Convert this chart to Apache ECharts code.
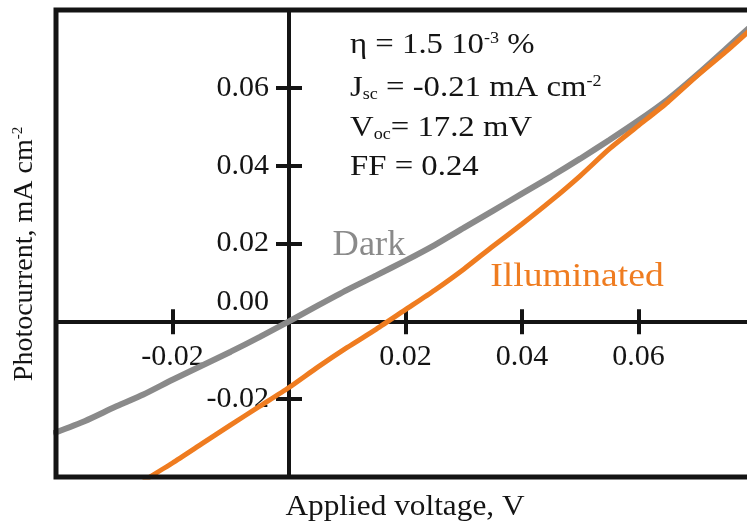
<!DOCTYPE html>
<html>
<head>
<meta charset="utf-8">
<script src="https://cdn.jsdelivr.net/npm/echarts@6/dist/echarts.min.js"></script>
<style>
html,body{margin:0;padding:0;background:#ffffff;}
#chart{width:747px;height:521px;}
</style>
</head>
<body>
<div id="chart"></div>
<script>
// ---- data ----
const darkVoltage = [-0.0405, -0.035, -0.030, -0.025, -0.020, -0.015, -0.010, -0.005, 0.000, 0.005, 0.010, 0.015, 0.020, 0.025, 0.030, 0.035, 0.040, 0.045, 0.050, 0.055, 0.060, 0.065, 0.070, 0.075, 0.080];
const darkCurrent = [-0.0288, -0.0256, -0.0221, -0.0188, -0.0150, -0.0114, -0.0078, -0.0040, 0.0000, 0.0041, 0.0081, 0.0118, 0.0156, 0.0196, 0.0240, 0.0284, 0.0328, 0.0372, 0.0418, 0.0466, 0.0516, 0.0570, 0.0633, 0.0700, 0.0768];

const lightVoltage = [-0.025, -0.020, -0.015, -0.010, -0.005, 0.000, 0.005, 0.010, 0.015, 0.020, 0.025, 0.030, 0.035, 0.040, 0.045, 0.050, 0.055, 0.060, 0.065, 0.070, 0.075, 0.080];
const lightCurrent = [-0.0410, -0.0364, -0.0315, -0.0266, -0.0218, -0.0170, -0.0117, -0.0067, -0.0020, 0.0030, 0.0080, 0.0134, 0.0193, 0.0250, 0.0310, 0.0374, 0.0443, 0.0503, 0.0563, 0.0630, 0.0693, 0.0760];

const xTickLabels = ['-0.02', '0.02', '0.04', '0.06'];
const yTickLabels = ['-0.02', '0.00', '0.02', '0.04', '0.06'];

const annotationLines = [
  '\u03b7 = 1.5 10{sup|-3} %',
  'J{sub|sc} = -0.21 mA cm{sup|-2}',
  'V{sub|oc}= 17.2 mV',
  'FF = 0.24'
];
const xTitle = 'Applied voltage, V';
const yTitle = 'Photocurrent, mA cm{sup|-2}';
const seriesNames = ['Dark', 'Illuminated'];

// ---- styling / layout ----
const FONT = '"Liberation Serif", "Times New Roman", serif';
const INK = '#141414';
const GRAY = '#8a8a8a';
const ORANGE = '#ef7c20';
const CW = 747, CH = 521;
const G = {left: 56, top: 10, right: -8, bottom: 44};
const X_RANGE = [-0.04, 0.08];
const Y_RANGE = [-0.04, 0.08];
const GW = CW - G.left - G.right;
const GH = CH - G.top - G.bottom;
// axes cross at zero: shift the axes inwards from the grid edges
const xAxisOffset = -(0 - Y_RANGE[0]) / (Y_RANGE[1] - Y_RANGE[0]) * GH;
const yAxisOffset = -(0 - X_RANGE[0]) / (X_RANGE[1] - X_RANGE[0]) * GW;

const chart = echarts.init(document.getElementById('chart'), null, {renderer: 'canvas'});

function fmt(v) { return (Math.abs(v) < 1e-9 ? 0 : v).toFixed(2); }
const xLabelFmt = v => { const s = fmt(v); return xTickLabels.indexOf(s) >= 0 ? s : ''; };
const yLabelFmt = v => {
  const s = fmt(v);
  if (yTickLabels.indexOf(s) < 0) return '';
  return s === '0.00' ? '{z|' + s + '}' : s;
};

const axisLine = {onZero: false, lineStyle: {color: INK, width: 4}};
const tickStyle = {color: INK, width: 4};

const xBase = {type: 'value', min: X_RANGE[0], max: X_RANGE[1], interval: 0.02, position: 'bottom', offset: xAxisOffset, splitLine: {show: false}};
const yBase = {type: 'value', min: Y_RANGE[0], max: Y_RANGE[1], interval: 0.02, position: 'left', offset: yAxisOffset, splitLine: {show: false}};

const graphics = [];
annotationLines.forEach((t, i) => {
  graphics.push({
    type: 'text', x: 350, y: [45, 88, 128, 167][i], scaleX: 1.13, z: 50,
    style: {
      text: t, x: 0, y: 0, align: 'left', verticalAlign: 'middle',
      fontSize: 29, fontFamily: FONT, fill: INK,
      rich: {
        sup: {fontSize: 16, fontFamily: FONT, fill: INK, verticalAlign: 'top', lineHeight: 16},
        sub: {fontSize: 16, fontFamily: FONT, fill: INK, verticalAlign: 'bottom', lineHeight: 16}
      }
    }
  });
});
graphics.push({
  type: 'text', x: 369, y: 246, scaleX: 1.04, z: 50,
  style: {text: seriesNames[0], x: 0, y: 0, align: 'center', verticalAlign: 'middle', fontSize: 35, fontFamily: FONT, fill: GRAY}
});
graphics.push({
  type: 'text', x: 577, y: 277, scaleX: 1.14, z: 50,
  style: {text: seriesNames[1], x: 0, y: 0, align: 'center', verticalAlign: 'middle', fontSize: 33, fontFamily: FONT, fill: ORANGE}
});
graphics.push({
  type: 'text', x: 405, y: 507, scaleX: 1.08, z: 50,
  style: {text: xTitle, x: 0, y: 0, align: 'center', verticalAlign: 'middle', fontSize: 29, fontFamily: FONT, fill: INK}
});
graphics.push({
  type: 'text', x: 25, y: 254, rotation: Math.PI / 2, z: 50,
  style: {
    text: yTitle, x: 0, y: 0, align: 'center', verticalAlign: 'middle', fontSize: 28, fontFamily: FONT, fill: INK,
    rich: {sup: {fontSize: 15, fontFamily: FONT, fill: INK, verticalAlign: 'top', lineHeight: 15}}
  }
});
// frame round the plot
graphics.push({
  type: 'rect', z: 100, silent: true,
  shape: {x: G.left, y: G.top, width: GW, height: GH},
  style: {fill: 'none', stroke: INK, lineWidth: 5}
});

const option = {
  animation: false,
  backgroundColor: '#ffffff',
  grid: {left: G.left, top: G.top, right: G.right, bottom: G.bottom, containLabel: false, outerBoundsMode: 'none', show: false},
  xAxis: [
    Object.assign({}, xBase, {
      axisLine: axisLine,
      axisTick: {show: true, inside: false, length: 13, lineStyle: tickStyle},
      axisLabel: {show: true, margin: 21, fontSize: 30, fontFamily: FONT, color: INK, formatter: xLabelFmt}
    }),
    Object.assign({}, xBase, {
      axisLine: {show: false},
      axisTick: {show: true, inside: true, length: 12, lineStyle: tickStyle},
      axisLabel: {show: false}
    })
  ],
  yAxis: [
    Object.assign({}, yBase, {
      axisLine: axisLine,
      axisTick: {show: true, inside: false, length: 13, lineStyle: tickStyle},
      axisLabel: {
        show: true, margin: 20, fontSize: 30, fontFamily: FONT, color: INK, formatter: yLabelFmt,
        rich: {z: {fontSize: 30, fontFamily: FONT, color: INK, padding: [0, 0, 38, 0]}}
      }
    }),
    Object.assign({}, yBase, {
      axisLine: {show: false},
      axisTick: {show: true, inside: true, length: 13, lineStyle: tickStyle},
      axisLabel: {show: false}
    })
  ],
  series: [
    {
      name: seriesNames[0], type: 'line', xAxisIndex: 0, yAxisIndex: 0,
      data: darkVoltage.map((v, i) => [v, darkCurrent[i]]),
      showSymbol: false, smooth: 0.2, clip: true,
      lineStyle: {color: GRAY, width: 6}, z: 3
    },
    {
      name: seriesNames[1], type: 'line', xAxisIndex: 0, yAxisIndex: 0,
      data: lightVoltage.map((v, i) => [v, lightCurrent[i]]),
      showSymbol: false, smooth: 0.2, clip: true,
      lineStyle: {color: ORANGE, width: 5}, z: 4
    }
  ],
  graphic: graphics
};
chart.setOption(option);
</script>
</body>
</html>
